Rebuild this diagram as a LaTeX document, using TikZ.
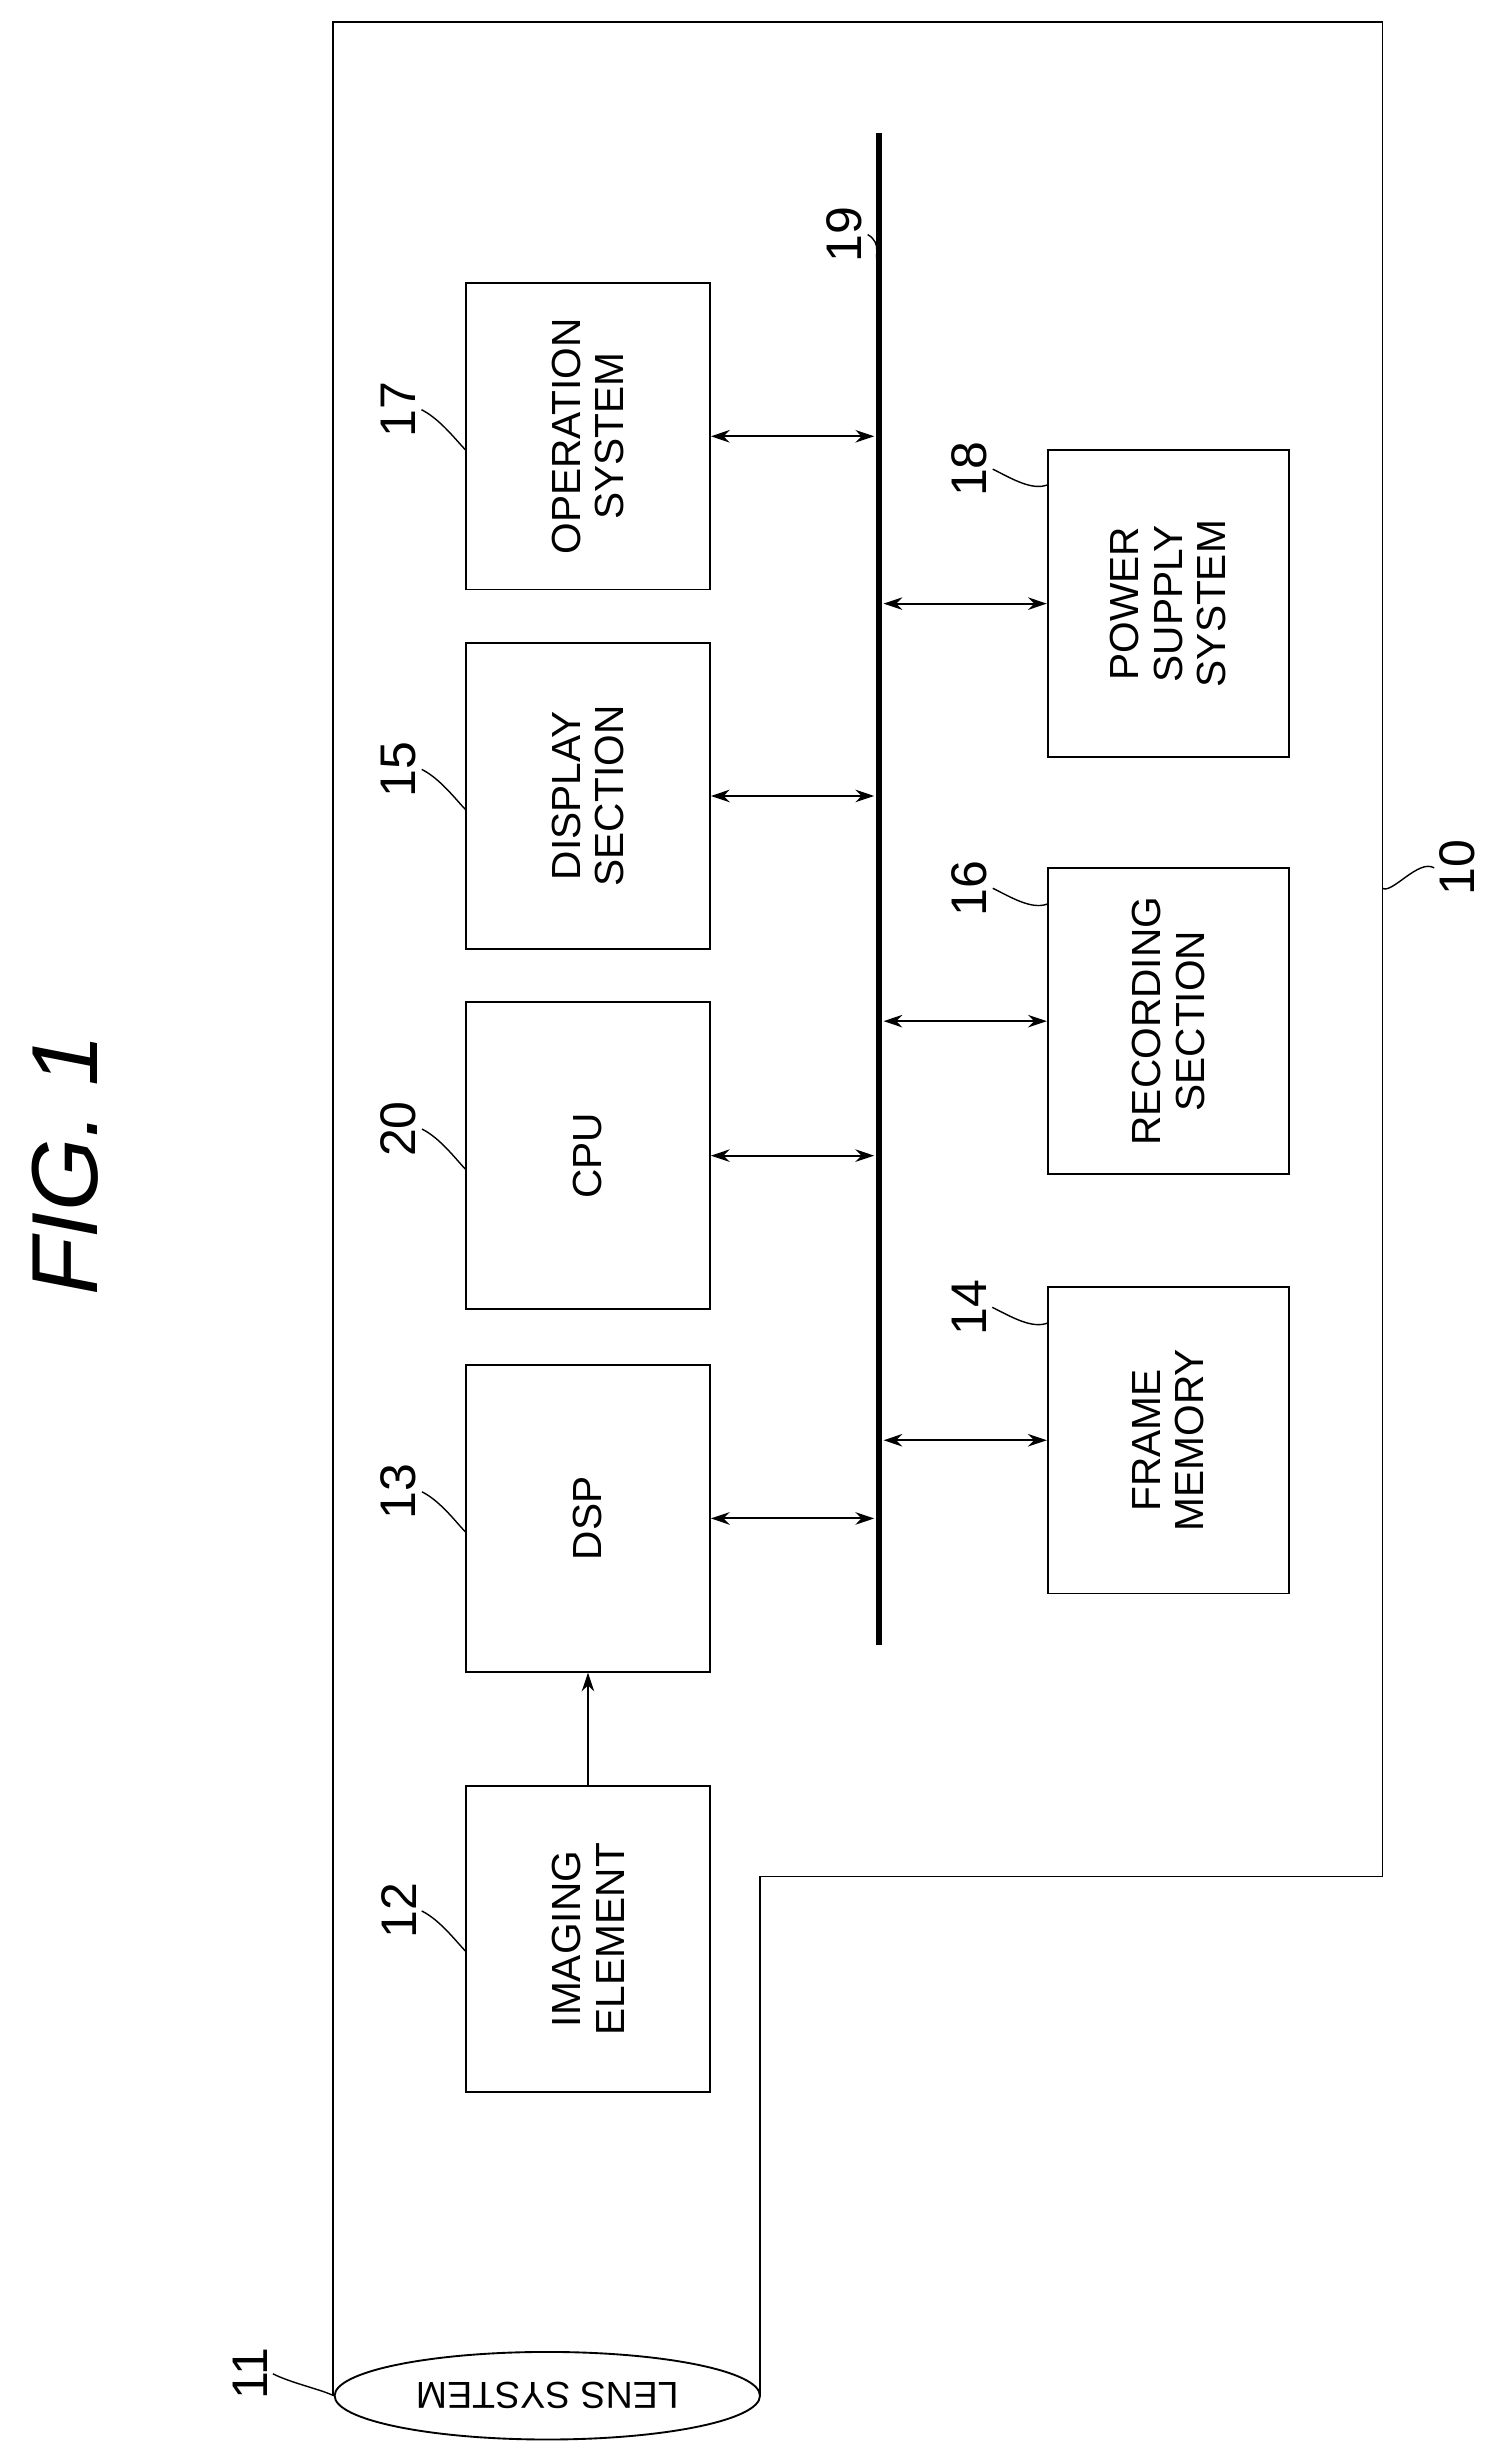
\documentclass[tikz,border=0pt]{standalone}
\usetikzlibrary{shapes.geometric,arrows.meta}
\usepackage{fontspec}
\setmainfont{Liberation Sans}
\begin{document}
\begin{tikzpicture}[x=1pt,y=-1pt,
  box/.style={draw,line width=1.2pt,minimum width=196pt,minimum height=156pt,rotate=90,align=center,font=\fontsize{26}{28}\selectfont},
  rbox/.style={box,minimum height=154pt},
  num/.style={rotate=90,font=\fontsize{32}{34}\selectfont},
  arr/.style={{Stealth[length=12pt,width=8pt]}-{Stealth[length=12pt,width=8pt]},line width=1.3pt},
  lead/.style={line width=0.9pt}]
\useasboundingbox (0,0) rectangle (964,1568);
% outline 10
\draw[line width=1pt] (213,1532) -- (213,14) -- (884,14) -- (884,1200) -- (486,1200) -- (486,1532);
\node[draw,line width=1.2pt,ellipse,minimum width=272pt,minimum height=56pt,fill=white,font=\fontsize{24}{26}\selectfont,inner sep=0pt] (lens) at (350,1532) {\rotatebox{180}{LENS SYSTEM}};
% boxes
\node[box] (op) at (376,279) {OPERATION\\SYSTEM};
\node[box] (disp) at (376,509) {DISPLAY\\SECTION};
\node[box] (cpu) at (376,739) {CPU};
\node[box] (dsp) at (376,971) {DSP};
\node[box] (img) at (376,1240) {IMAGING\\ELEMENT};
\node[rbox] (pow) at (747,386) {POWER\\SUPPLY\\SYSTEM};
\node[rbox] (rec) at (747,653) {RECORDING\\SECTION};
\node[rbox] (fm) at (747,921) {FRAME\\MEMORY};
% bus
\coordinate (bt) at (562,85); \coordinate (bb) at (562,1052);
\draw[line width=4pt] (bt) -- (bb);
\draw[arr] (op.south) -- ([xshift=-3pt]op.south -| bt);
\draw[arr] (disp.south) -- ([xshift=-3pt]disp.south -| bt);
\draw[arr] (cpu.south) -- ([xshift=-3pt]cpu.south -| bt);
\draw[arr] (dsp.south) -- ([xshift=-3pt]dsp.south -| bt);
\draw[arr] (pow.north) -- ([xshift=3pt]pow.north -| bt);
\draw[arr] (rec.north) -- ([xshift=3pt]rec.north -| bt);
\draw[arr] (fm.north) -- ([xshift=3pt]fm.north -| bt);
\draw[-{Stealth[length=12pt,width=8pt]},line width=1.3pt] (img.east) -- (dsp.west);
% labels
\node[num] (n17) at (255,262) {17};
\node[num] (n15) at (255,492) {15};
\node[num] (n20) at (255,722) {20};
\node[num] (n13) at (255,954) {13};
\node[num] (n12) at (255,1222) {12};
\node[num] (n18) at (620,300) {18};
\node[num] (n16) at (620,568) {16};
\node[num] (n14) at (620,836) {14};
\node[num] (n19) at (540,150) {19};
\node[num] (n10) at (932,555) {10};
\node[num] (n11) at (160,1518) {11};
\foreach \n/\bx/\by in {n17/298/288,n15/298/518,n20/298/748,n13/298/980,n12/298/1248}
  \draw[lead] (\n.south) .. controls +(12,6) and +(-6,-6) .. (\bx,\by);
\foreach \n/\bx/\by in {n18/670/310,n16/670/578,n14/670/846}
  \draw[lead] (\n.south) .. controls +(12,6) and +(-10,4) .. (\bx,\by);
\draw[lead] (n19.south) .. controls +(10,6) and +(-4,-6) .. (562,170);
\draw[lead] (n10.north) .. controls +(-10,-6) and +(6,4) .. (884,568);
\draw[lead] (n11.south) .. controls +(12,6) and +(-8,-4) .. (lens.west);
\node[rotate=90,font=\fontsize{60}{62}\selectfont\itshape] (fig) at (42,745) {FIG. 1};
\end{tikzpicture}
\end{document}
